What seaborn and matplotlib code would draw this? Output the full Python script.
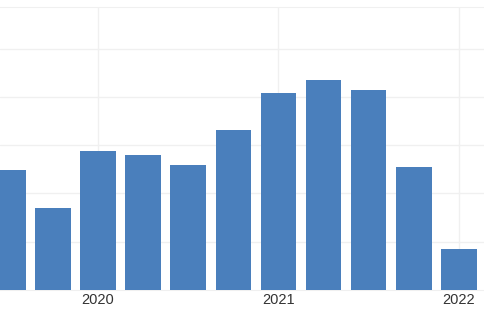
import matplotlib
matplotlib.use("Agg")
import matplotlib.pyplot as plt
import seaborn as sns
import pandas as pd

quarters = ["2019Q3", "2019Q4", "2020Q1", "2020Q2", "2020Q3", "2020Q4",
            "2021Q1", "2021Q2", "2021Q3", "2021Q4", "2022Q1"]
values = [2.48, 1.70, 2.88, 2.80, 2.59, 3.31, 4.07, 4.35, 4.14, 2.55, 0.84]
year_labels = ["2020", "2021", "2022"]
year_positions = [2, 6, 10]

df = pd.DataFrame({"quarter": quarters, "value": values})

sns.set_style("white")
plt.rcParams["font.family"] = ["Liberation Sans", "DejaVu Sans"]

fig = plt.figure(figsize=(4.85, 3.14), dpi=100)
ax = fig.add_axes([0, 24 / 314, 1, 283 / 314])

sns.barplot(data=df, x="quarter", y="value", color="#4a7fbc", saturation=1,
            width=0.79, linewidth=0, ax=ax, zorder=3)

ax.set_xlim(-0.173, 10.58)
ax.set_ylim(0, 5.86)
ax.set_yticks([1, 2, 3, 4, 5])
ax.set_yticklabels([])
ax.set_xticks(year_positions)
ax.set_xticklabels(year_labels, fontsize=10.5, color="#333333")
ax.tick_params(axis="both", length=0, pad=2.5)
ax.set_xlabel("")
ax.set_ylabel("")
ax.grid(True, color="#f0f0f0", linewidth=1, zorder=0)
for s in ["left", "right"]:
    ax.spines[s].set_visible(False)
ax.spines["top"].set_color("#f0f0f0")
ax.spines["bottom"].set_color("#f0f0f0")

fig.savefig("out.png", dpi=100)
